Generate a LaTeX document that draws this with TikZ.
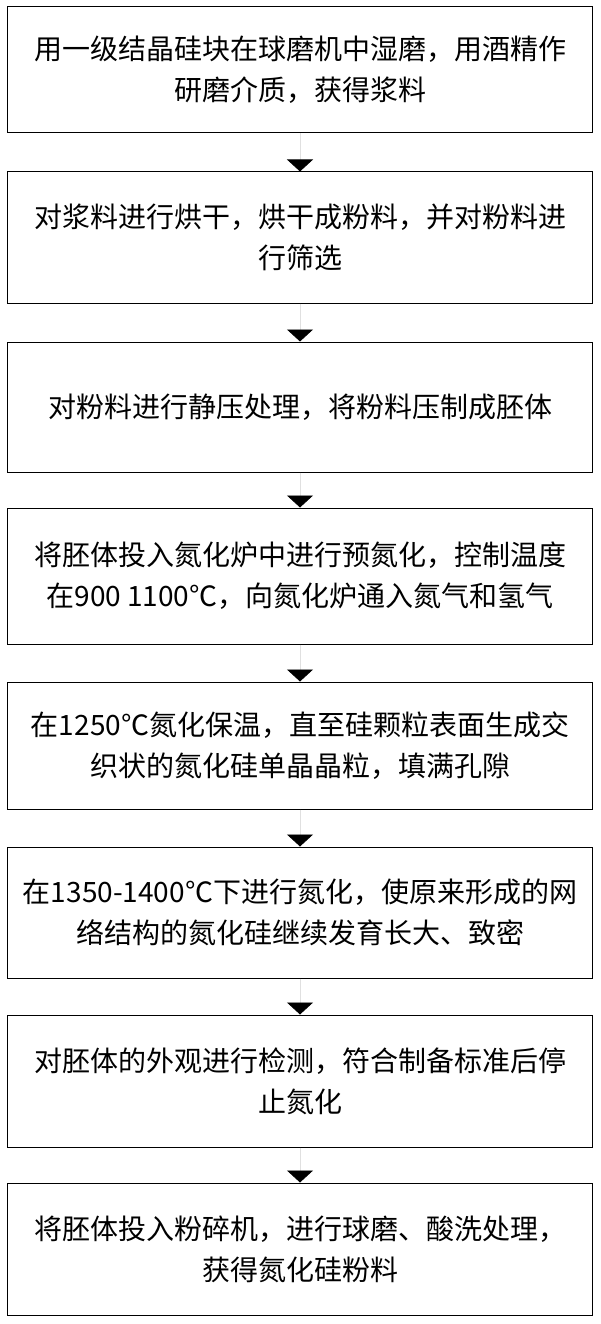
\documentclass[tikz,border=0pt]{standalone}
\usepackage{fontspec}
\usepackage{tikz}
\usetikzlibrary{arrows.meta, positioning}
\newfontfamily\cjk{Noto Sans CJK SC}

\begin{document}
\begin{tikzpicture}[
  x=1pt, y=-1pt,
  font=\cjk\fontsize{28}{41}\selectfont,
  stepbox/.style={draw=black, line width=1pt, minimum width=585pt, align=center, inner sep=0pt},
  arrow/.style={-{Triangle[length=12pt, width=26pt, color=black]}, line width=0.8pt, draw=black!12}
]
\useasboundingbox (0,0) rectangle (600,1324);

\node[stepbox, minimum height=126pt] (s1) at (300,70) {用一级结晶硅块在球磨机中湿磨，用酒精作\\研磨介质，获得浆料};
\node[stepbox, minimum height=131pt] (s2) at (300,237.5) {对浆料进行烘干，烘干成粉料，并对粉料进\\行筛选};
\node[stepbox, minimum height=130pt] (s3) at (300,407) {对粉料进行静压处理，将粉料压制成胚体};
\node[stepbox, minimum height=136pt] (s4) at (300,576) {将胚体投入氮化炉中进行预氮化，控制温度\\在900 1100℃，向氮化炉通入氮气和氢气};
\node[stepbox, minimum height=127pt] (s5) at (300,745.5) {在1250℃氮化保温，直至硅颗粒表面生成交\\织状的氮化硅单晶晶粒，填满孔隙};
\node[stepbox, minimum height=131pt] (s6) at (300,912.5) {在1350-1400℃下进行氮化，使原来形成的网\\络结构的氮化硅继续发育长大、致密};
\node[stepbox, minimum height=132pt] (s7) at (300,1081) {对胚体的外观进行检测，符合制备标准后停\\止氮化};
\node[stepbox, minimum height=132pt] (s8) at (300,1249) {将胚体投入粉碎机，进行球磨、酸洗处理，\\获得氮化硅粉料};

\draw[arrow] (s1) -- (s2);
\draw[arrow] (s2) -- (s3);
\draw[arrow] (s3) -- (s4);
\draw[arrow] (s4) -- (s5);
\draw[arrow] (s5) -- (s6);
\draw[arrow] (s6) -- (s7);
\draw[arrow] (s7) -- (s8);
\end{tikzpicture}
\end{document}
